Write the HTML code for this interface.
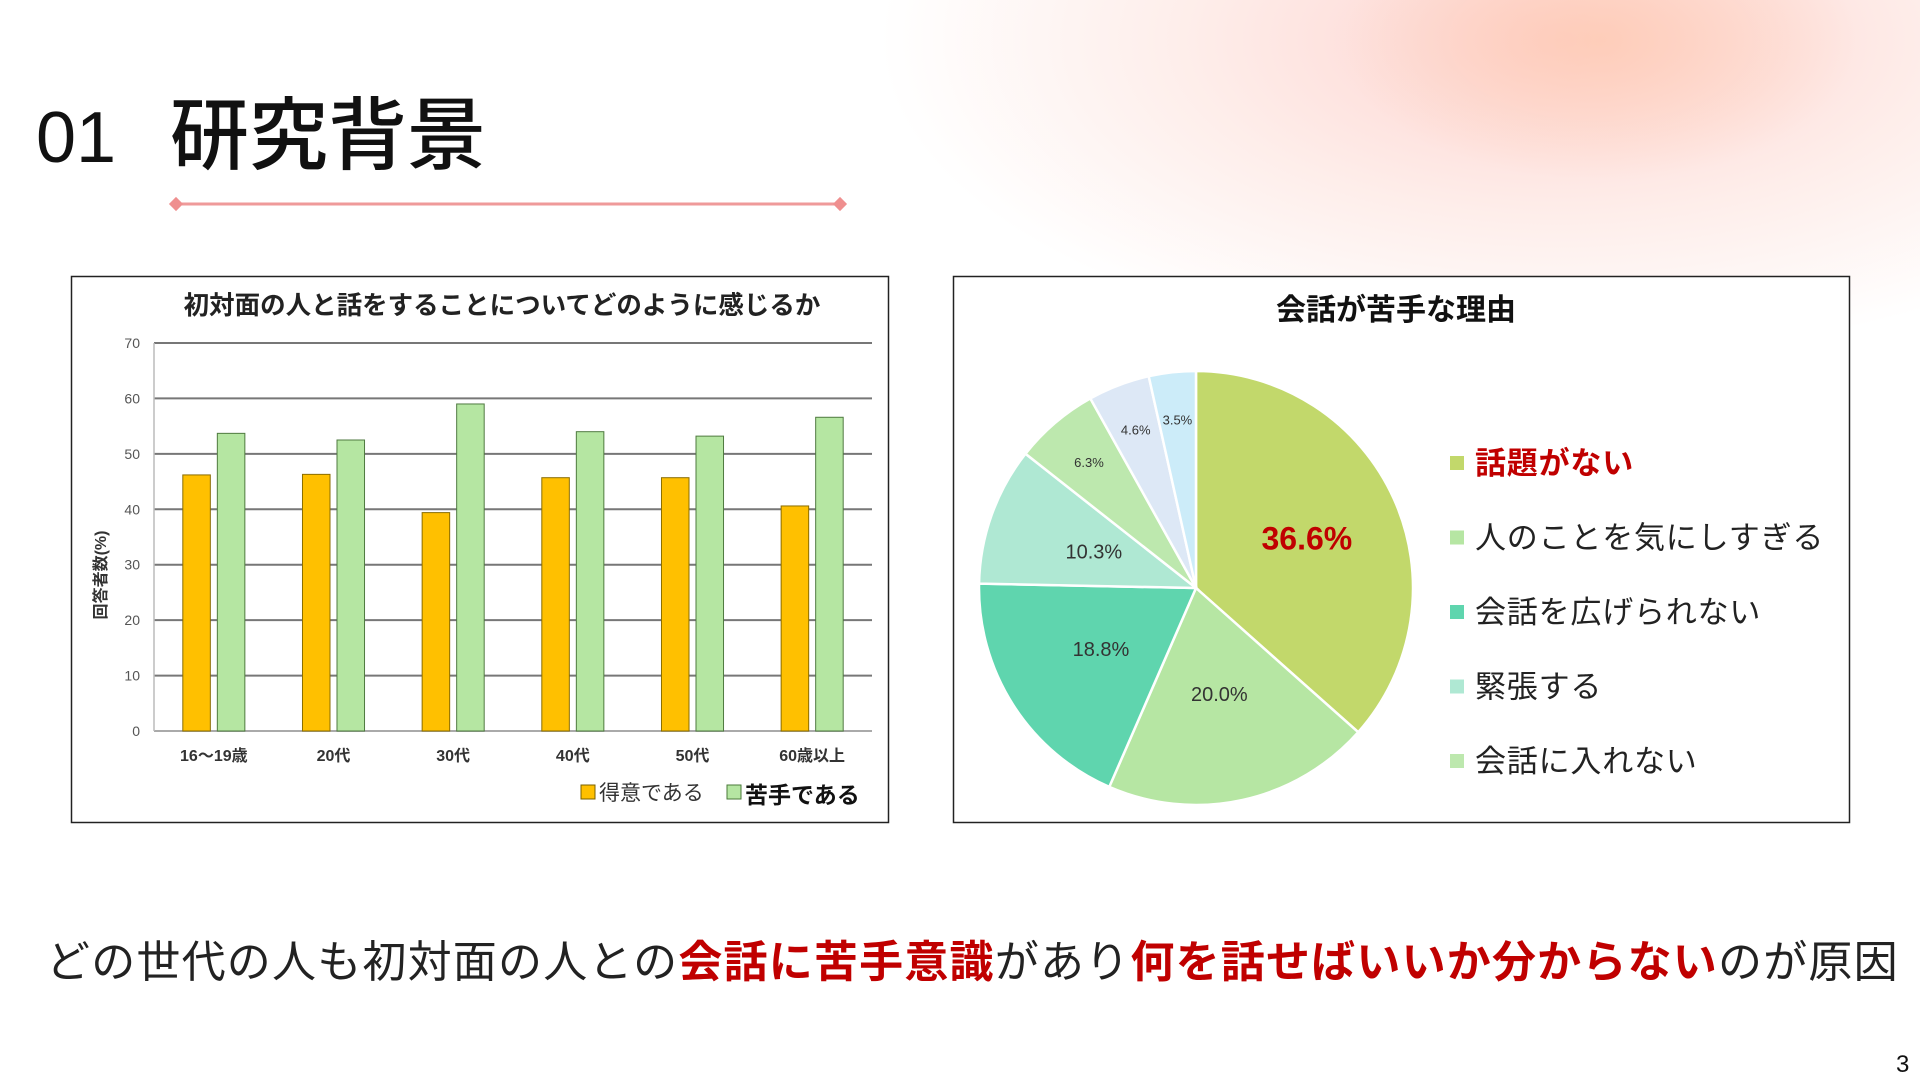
<!DOCTYPE html>
<html><head><meta charset="utf-8">
<style>
html,body{margin:0;padding:0;}
body{width:1920px;height:1080px;position:relative;overflow:hidden;background:#fff;font-family:"Liberation Sans","Noto Sans CJK JP",sans-serif;}
#bg{position:absolute;left:0;top:0;width:1920px;height:1080px;
background:radial-gradient(ellipse 260px 140px at 1600px 40px, rgba(255,200,170,0.6), rgba(255,200,170,0) 100%),
radial-gradient(ellipse 680px 320px at 1560px 40px, rgba(252,195,190,0.75), rgba(252,205,195,0.35) 55%, rgba(255,235,225,0) 100%);}
svg{position:absolute;left:0;top:0;}
</style></head>
<body>
<div id="bg"></div>
<svg width="1920" height="1080">
  <text x="36" y="162" font-size="72" fill="#111" font-family="Liberation Sans, Noto Sans CJK JP, sans-serif">01</text>
  <text x="170" y="163" font-size="79" font-weight="500" fill="#111" font-family="Liberation Sans, Noto Sans CJK JP, sans-serif">研究背景</text>
  <g>
    <line x1="176" y1="204" x2="840" y2="204" stroke="#ef9a9a" stroke-width="3"/>
    <rect x="171" y="199" width="10" height="10" fill="#ef8f8f" transform="rotate(45 176 204)"/>
    <rect x="835" y="199" width="10" height="10" fill="#ef8f8f" transform="rotate(45 840 204)"/>
  </g>

  <g>
    <rect x="71.5" y="276.5" width="817" height="546" fill="#fff" stroke="#222" stroke-width="1.5"/>
    <text x="502" y="314" text-anchor="middle" font-size="25.5" font-weight="bold" fill="#222">初対面の人と話をすることについてどのように感じるか</text>
    <g id="grid"></g>
    <g id="bars"></g>
    <g id="xlabels"></g>
    <text transform="translate(106 575) rotate(-90)" text-anchor="middle" font-size="16" font-weight="bold" fill="#333">回答者数(%)</text>
    <g>
      <rect x="581" y="785" width="14" height="14" fill="#ffc000" stroke="#7a6000"/>
      <text x="599" y="800" font-size="21" fill="#333">得意である</text>
      <rect x="727" y="785" width="14" height="14" fill="#b5e6a2" stroke="#4a7a3a"/>
      <text x="745" y="803" font-size="23" font-weight="bold" fill="#111">苦手である</text>
    </g>
  </g>

  <g>
    <rect x="953.5" y="276.5" width="896" height="546" fill="#fff" stroke="#222" stroke-width="1.5"/>
    <text x="1396" y="320" text-anchor="middle" font-size="30" font-weight="bold" fill="#111">会話が苦手な理由</text>
    <g id="slices"></g>
    <g id="plabels"></g>
    <g id="plegend"></g>
  </g>

  <text x="46" y="977" font-size="44" letter-spacing="1.2" fill="#222">どの世代の人も初対面の人との<tspan fill="#c00000" font-weight="bold">会話に苦手意識</tspan>があり<tspan fill="#c00000" font-weight="bold">何を話せばいいか分からない</tspan>のが原因</text>
  <text x="1896" y="1072" font-size="24" fill="#111">3</text>
</svg>
<script>
const categories = ["16〜19歳","20代","30代","40代","50代","60歳以上"];
const goodValues = [46.2,46.3,39.4,45.7,45.7,40.6];
const badValues = [53.7,52.5,59.0,54.0,53.2,56.6];
const yTicks = [0,10,20,30,40,50,60,70];

const pieLabels = ["話題がない","人のことを気にしすぎる","会話を広げられない","緊張する","会話に入れない","その他1","その他2"];
const pieValues = [36.6,20.0,18.8,10.3,6.3,4.6,3.5];
const pieValueText = ["36.6%","20.0%","18.8%","10.3%","6.3%","4.6%","3.5%"];

const NS="http://www.w3.org/2000/svg";
function mk(tag,attrs,parent){const e=document.createElementNS(NS,tag);for(const k in attrs)e.setAttribute(k,attrs[k]);parent.appendChild(e);return e;}

const px0=154, px1=872, py0=731, py1=343, ymax=70;
const y=v=>py0-(v/ymax)*(py0-py1);
const band=(px1-px0)/categories.length;
const bw=band*0.23, gap=7;
const grid=document.getElementById('grid');
yTicks.forEach(t=>{
  const l=mk('line',{x1:px0,x2:px1,y1:y(t),y2:y(t),stroke:t===0?'#aaa':'#777','stroke-width':2},grid);
  
  
  const tx=mk('text',{x:px0-14,y:y(t)+5,'text-anchor':'end','font-size':14,fill:'#555'},grid);
  tx.textContent=t;
  
  
});
const ax=mk('line',{x1:px0,x2:px0,y1:py1,y2:py0,stroke:'#bbb','stroke-width':1.5},grid);


const bars=document.getElementById('bars'), xl=document.getElementById('xlabels');
categories.forEach((c,i)=>{
  const cx=px0+band*(i+0.5);
  const g=mk('rect',{x:cx-gap/2-bw,y:y(goodValues[i]),width:bw,height:py0-y(goodValues[i]),fill:'#ffc000',stroke:'#8a6d00','stroke-width':1},bars);
  
  
  const b=mk('rect',{x:cx+gap/2,y:y(badValues[i]),width:bw,height:py0-y(badValues[i]),fill:'#b5e6a2',stroke:'#4f7a40','stroke-width':1},bars);
  
  
  const t=mk('text',{x:cx,y:761,'text-anchor':'middle','font-size':16,'font-weight':'bold',fill:'#333'},xl);
  t.textContent=c;
  
  
});

const pcx=1196, pcy=588, R=217;
const colors=['#c2d86b','#b6e6a3','#5fd5ae','#afe8d3','#bde8ae','#dde8f6','#ccecf9'];
const labelR=[0.56,0.5,0.52,0.5,0.76,0.78,0.78];
const labelSize=[32,20,20,20,13,13,13];
const total=pieValues.reduce((a,b)=>a+b,0);
let ang=0;
const sl=document.getElementById('slices'), pl=document.getElementById('plabels');
pieValues.forEach((v,i)=>{
  const a0=ang, a1=ang+v/total*2*Math.PI; ang=a1;
  const p=(a)=>[pcx+R*Math.sin(a), pcy-R*Math.cos(a)];
  const [x0,y0]=p(a0),[x1,y1]=p(a1);
  const large=(a1-a0)>Math.PI?1:0;
  const s=mk('path',{d:`M${pcx},${pcy}L${x0},${y0}A${R},${R} 0 ${large} 1 ${x1},${y1}Z`,fill:colors[i],stroke:'#fff','stroke-width':2.5},sl);
  
  
  const am=(a0+a1)/2;
  const lx=pcx+R*labelR[i]*Math.sin(am), ly=pcy-R*labelR[i]*Math.cos(am);
  const t=mk('text',{x:lx,y:ly+labelSize[i]*0.35,'text-anchor':'middle','font-size':labelSize[i],'font-weight':i===0?'bold':'normal',fill:i===0?'#c00000':'#333'},pl);
  t.textContent=pieValueText[i];
  
  
});
const lg=document.getElementById('plegend');
for(let i=0;i<5;i++){
  const yy=463+i*74.5;
  const m=mk('rect',{x:1450,y:yy-7,width:14,height:14,fill:colors[i]},lg);
  
  
  const t=mk('text',{x:1475,y:yy+11,'font-size':31,'letter-spacing':0.8,'font-weight':i===0?'bold':'normal',fill:i===0?'#c00000':'#222'},lg);
  t.textContent=pieLabels[i];
  
  
}
</script>
</body></html>
